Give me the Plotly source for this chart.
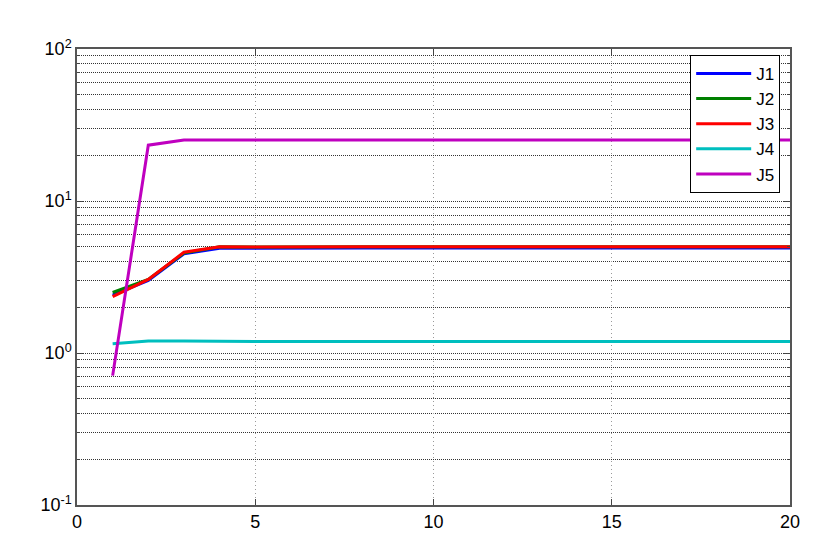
import plotly.graph_objects as go

x = list(range(1, 21))
J1 = [2.40, 3.00, 4.50, 4.88, 4.88, 4.90, 4.90, 4.90, 4.90, 4.90, 4.90, 4.90, 4.90, 4.90, 4.90, 4.90, 4.90, 4.90, 4.90, 4.90]
J2 = [2.50, 3.05, 4.55, 5.00, 4.98, 5.00, 5.00, 5.00, 5.00, 5.00, 5.00, 5.00, 5.00, 5.00, 5.00, 5.00, 5.00, 5.00, 5.00, 5.00]
J3 = [2.35, 3.05, 4.60, 5.00, 4.98, 5.00, 5.00, 5.00, 5.00, 5.00, 5.00, 5.00, 5.00, 5.00, 5.00, 5.00, 5.00, 5.00, 5.00, 5.00]
J4 = [1.15, 1.20, 1.20, 1.19, 1.19, 1.19, 1.19, 1.19, 1.19, 1.19, 1.19, 1.19, 1.19, 1.19, 1.19, 1.19, 1.19, 1.19, 1.19, 1.19]
J5 = [0.71, 23.3, 25.2, 25.2, 25.2, 25.2, 25.2, 25.2, 25.2, 25.2, 25.2, 25.2, 25.2, 25.2, 25.2, 25.2, 25.2, 25.2, 25.2, 25.2]

series = [("J1", J1, "#0000ff"), ("J2", J2, "#008000"), ("J3", J3, "#ff0000"),
          ("J4", J4, "#00bfbf"), ("J5", J5, "#bf00bf")]

x_ticks = [0, 5, 10, 15, 20]
y_ticks = [0.1, 1, 10, 100]
y_ticktext = ["10<sup>-1</sup>", "10<sup>0</sup>", "10<sup>1</sup>", "10<sup>2</sup>"]
y_minor = [m * d for d in (0.1, 1, 10) for m in range(2, 10)]

fig = go.Figure()
for name, ys, col in series:
    fig.add_trace(go.Scatter(x=x, y=ys, mode="lines", name=name,
                             line=dict(color=col, width=3)))

FAM = "Liberation Sans, Arial, sans-serif"
font = dict(family=FAM, size=18, color="black")

fig.update_layout(
    width=830, height=554,
    margin=dict(l=69, r=48, t=41, b=57),
    paper_bgcolor="white", plot_bgcolor="white",
    font=font,
    showlegend=True,
    legend=dict(x=0.86, y=0.987, xanchor="left", yanchor="top",
                bgcolor="white", bordercolor="black", borderwidth=1,
                font=dict(family=FAM, size=17, color="black"),
                tracegroupgap=0, itemwidth=55),
)
fig.update_xaxes(
    range=[0, 20], tickvals=x_ticks, ticks="inside", ticklen=6,
    tickcolor="#444", showline=True, linecolor="#555", linewidth=1.5,
    mirror="ticks", showgrid=True, gridcolor="#9a9a9a", griddash="1px,3px",
    gridwidth=1, zeroline=False, tickfont=font,
)
fig.update_yaxes(
    type="log", range=[-1, 2], tickvals=y_ticks, ticktext=y_ticktext,
    ticks="inside", ticklen=6, tickcolor="#444", showline=True,
    linecolor="#555", linewidth=1.5, mirror="ticks",
    showgrid=True, gridcolor="#333333", griddash="1px,1px", gridwidth=1,
    zeroline=False, tickfont=font,
    minor=dict(tickvals=y_minor, ticks="inside", ticklen=3, tickcolor="#444",
               showgrid=True, gridcolor="#333333", griddash="1px,1px", gridwidth=1),
)

fig.write_html("out.html")
